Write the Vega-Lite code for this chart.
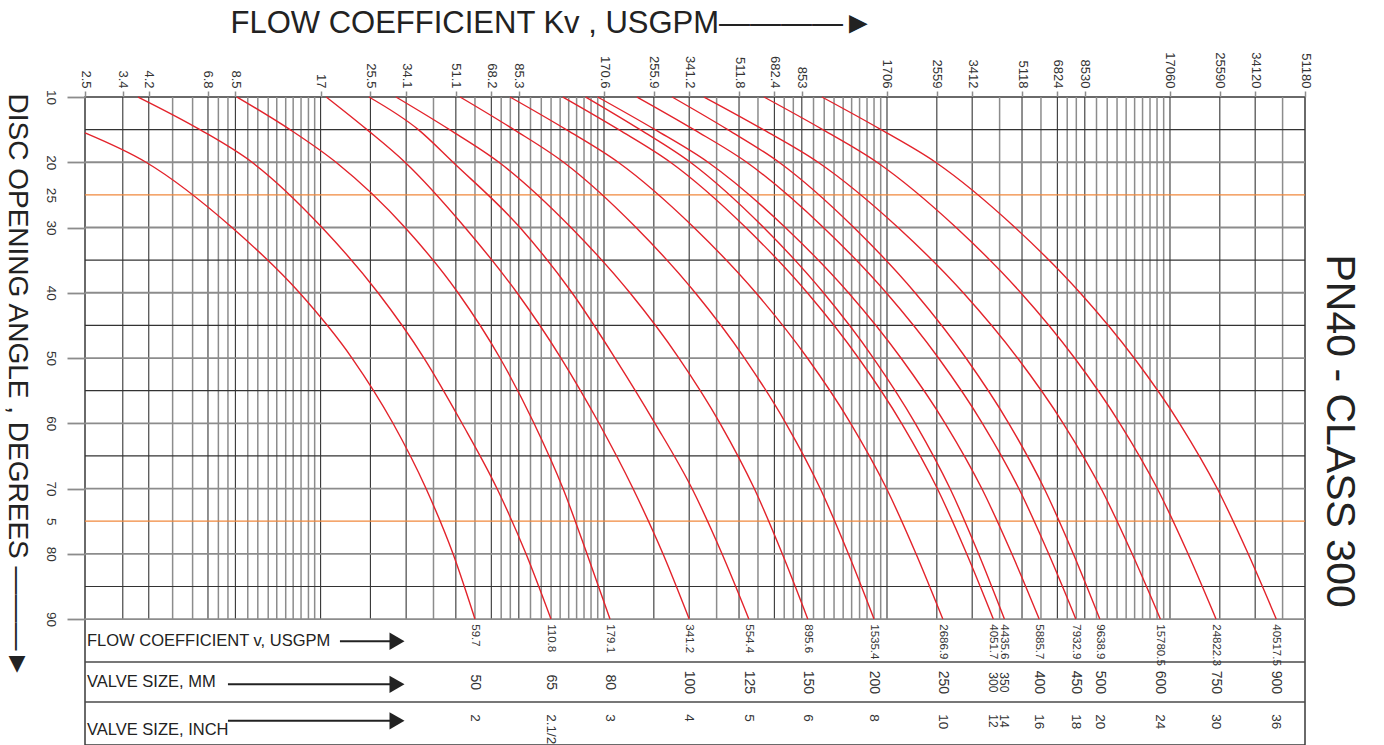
{
  "$schema": "https://vega.github.io/schema/vega-lite/v6.json",
  "width": 1220,
  "height": 648,
  "autosize": {"type": "none"},
  "padding": {"left": 85, "top": 97, "right": 79, "bottom": 0},
  "background": "#ffffff",
  "config": {
    "view": {"stroke": "#3a3a3a", "strokeWidth": 1.5},
    "font": "Liberation Sans"
  },
  "datasets": {
    "vgridLabeled": [{"kv":3.4},{"kv":4.2},{"kv":6.8},{"kv":8.5},{"kv":17},{"kv":25.5},{"kv":34.1},{"kv":51.1},{"kv":68.2},{"kv":85.3},{"kv":170.6},{"kv":255.9},{"kv":341.2},{"kv":511.8},{"kv":682.4},{"kv":853},{"kv":1706},{"kv":2559},{"kv":3412},{"kv":5118},{"kv":6824},{"kv":8530},{"kv":17060},{"kv":25590},{"kv":34120}],
    "vgridMinor": [{"kv":5.1},{"kv":6.0},{"kv":7.4},{"kv":8.0},{"kv":9.4},{"kv":10.2},{"kv":11.1},{"kv":11.9},{"kv":12.8},{"kv":13.6},{"kv":14.5},{"kv":15.4},{"kv":16.2},{"kv":42.6},{"kv":59.7},{"kv":73.9},{"kv":79.6},{"kv":93.8},{"kv":102.4},{"kv":110.9},{"kv":119.4},{"kv":128},{"kv":136.5},{"kv":145},{"kv":153.5},{"kv":162.1},{"kv":426.5},{"kv":597.1},{"kv":739.3},{"kv":796.1},{"kv":938.3},{"kv":1023.6},{"kv":1108.9},{"kv":1194.2},{"kv":1279.5},{"kv":1364.8},{"kv":1450.1},{"kv":1535.4},{"kv":1620.7},{"kv":4265},{"kv":5971},{"kv":7393},{"kv":7961},{"kv":9383},{"kv":10236},{"kv":11089},{"kv":11942},{"kv":12795},{"kv":13648},{"kv":14501},{"kv":15354},{"kv":16207},{"kv":42650}],
    "hgridTen": [{"angle":20},{"angle":30},{"angle":40},{"angle":50},{"angle":60},{"angle":70},{"angle":80},{"angle":90}],
    "hgridFive": [{"angle":15},{"angle":35},{"angle":45},{"angle":55},{"angle":65},{"angle":85}],
    "markers": [{"angle":25},{"angle":75}],
    "valves": [
      {"inch":"2","mm":50,"kv":59.7},
      {"inch":"2.1/2","mm":65,"kv":110.8},
      {"inch":"3","mm":80,"kv":179.1},
      {"inch":"4","mm":100,"kv":341.2},
      {"inch":"5","mm":125,"kv":554.4},
      {"inch":"6","mm":150,"kv":895.6},
      {"inch":"8","mm":200,"kv":1535.4},
      {"inch":"10","mm":250,"kv":2686.9},
      {"inch":"12","mm":300,"kv":4051.7},
      {"inch":"14","mm":350,"kv":4435.6},
      {"inch":"16","mm":400,"kv":5885.7},
      {"inch":"18","mm":450,"kv":7932.9},
      {"inch":"20","mm":500,"kv":9638.9},
      {"inch":"24","mm":600,"kv":15780.5},
      {"inch":"30","mm":750,"kv":24822.3},
      {"inch":"36","mm":900,"kv":40517.5}
    ],
    "curves": [
      {"inch":"2","angle":15.5,"kv":2.5},{"inch":"2","angle":20,"kv":4.107},{"inch":"2","angle":30,"kv":8.268},{"inch":"2","angle":40,"kv":14.32},{"inch":"2","angle":50,"kv":21.95},{"inch":"2","angle":60,"kv":30.64},{"inch":"2","angle":70,"kv":40.09},{"inch":"2","angle":80,"kv":49.94},{"inch":"2","angle":90,"kv":59.7},
      {"inch":"2.1/2","angle":10,"kv":3.85},{"inch":"2.1/2","angle":15,"kv":6.372},{"inch":"2.1/2","angle":20,"kv":9.73},{"inch":"2.1/2","angle":30,"kv":17.2},{"inch":"2.1/2","angle":40,"kv":27.13},{"inch":"2.1/2","angle":50,"kv":39.43},{"inch":"2.1/2","angle":60,"kv":53.73},{"inch":"2.1/2","angle":70,"kv":71.42},{"inch":"2.1/2","angle":80,"kv":90.42},{"inch":"2.1/2","angle":90,"kv":110.8},
      {"inch":"3","angle":10,"kv":8.61},{"inch":"3","angle":15,"kv":13.26},{"inch":"3","angle":20,"kv":19.27},{"inch":"3","angle":30,"kv":33.79},{"inch":"3","angle":40,"kv":52.01},{"inch":"3","angle":50,"kv":73.18},{"inch":"3","angle":60,"kv":96.5},{"inch":"3","angle":70,"kv":122.2},{"inch":"3","angle":80,"kv":148.5},{"inch":"3","angle":90,"kv":179.1},
      {"inch":"4","angle":10,"kv":17.8},{"inch":"4","angle":15,"kv":24.8},{"inch":"4","angle":20,"kv":33.79},{"inch":"4","angle":30,"kv":55.05},{"inch":"4","angle":40,"kv":84.04},{"inch":"4","angle":50,"kv":120.2},{"inch":"4","angle":60,"kv":163.8},{"inch":"4","angle":70,"kv":216.0},{"inch":"4","angle":80,"kv":275.6},{"inch":"4","angle":90,"kv":341.2},
      {"inch":"5","angle":10,"kv":25.2},{"inch":"5","angle":15,"kv":37.66},{"inch":"5","angle":20,"kv":49.94},{"inch":"5","angle":30,"kv":86.12},{"inch":"5","angle":40,"kv":131.5},{"inch":"5","angle":50,"kv":186.6},{"inch":"5","angle":60,"kv":258.3},{"inch":"5","angle":70,"kv":349.1},{"inch":"5","angle":80,"kv":445.6},{"inch":"5","angle":90,"kv":554.4},
      {"inch":"6","angle":10,"kv":31.4},{"inch":"6","angle":15,"kv":48.55},{"inch":"6","angle":20,"kv":72.56},{"inch":"6","angle":30,"kv":130.4},{"inch":"6","angle":40,"kv":210.6},{"inch":"6","angle":50,"kv":313.8},{"inch":"6","angle":60,"kv":438.5},{"inch":"6","angle":70,"kv":579.4},{"inch":"6","angle":80,"kv":727.6},{"inch":"6","angle":90,"kv":895.6},
      {"inch":"8","angle":10,"kv":52.9},{"inch":"8","angle":15,"kv":82.0},{"inch":"8","angle":20,"kv":122.8},{"inch":"8","angle":30,"kv":221.4},{"inch":"8","angle":40,"kv":358.4},{"inch":"8","angle":50,"kv":535.1},{"inch":"8","angle":60,"kv":749.2},{"inch":"8","angle":70,"kv":990.8},{"inch":"8","angle":80,"kv":1246},{"inch":"8","angle":90,"kv":1535.4},
      {"inch":"10","angle":10,"kv":79.4},{"inch":"10","angle":15,"kv":125.5},{"inch":"10","angle":20,"kv":191.5},{"inch":"10","angle":30,"kv":354.6},{"inch":"10","angle":40,"kv":586.9},{"inch":"10","angle":50,"kv":892.5},{"inch":"10","angle":60,"kv":1269},{"inch":"10","angle":70,"kv":1700},{"inch":"10","angle":80,"kv":2160},{"inch":"10","angle":90,"kv":2686.9},
      {"inch":"12","angle":10,"kv":122},{"inch":"12","angle":15,"kv":192.4},{"inch":"12","angle":20,"kv":292.9},{"inch":"12","angle":30,"kv":540.6},{"inch":"12","angle":40,"kv":892.1},{"inch":"12","angle":50,"kv":1353},{"inch":"12","angle":60,"kv":1921},{"inch":"12","angle":70,"kv":2569},{"inch":"12","angle":80,"kv":3262},{"inch":"12","angle":90,"kv":4051.7},
      {"inch":"14","angle":10,"kv":147},{"inch":"14","angle":15,"kv":228.9},{"inch":"14","angle":20,"kv":344.5},{"inch":"14","angle":30,"kv":625.4},{"inch":"14","angle":40,"kv":1018},{"inch":"14","angle":50,"kv":1527},{"inch":"14","angle":60,"kv":2147},{"inch":"14","angle":70,"kv":2849},{"inch":"14","angle":80,"kv":3593},{"inch":"14","angle":90,"kv":4435.6},
      {"inch":"16","angle":10,"kv":162},{"inch":"16","angle":15,"kv":258.4},{"inch":"16","angle":20,"kv":397.8},{"inch":"16","angle":30,"kv":745.8},{"inch":"16","angle":40,"kv":1247},{"inch":"16","angle":50,"kv":1911},{"inch":"16","angle":60,"kv":2738},{"inch":"16","angle":70,"kv":3690},{"inch":"16","angle":80,"kv":4711},{"inch":"16","angle":90,"kv":5885.7},
      {"inch":"18","angle":10,"kv":223},{"inch":"18","angle":15,"kv":354.7},{"inch":"18","angle":20,"kv":544.7},{"inch":"18","angle":30,"kv":1017},{"inch":"18","angle":40,"kv":1696},{"inch":"18","angle":50,"kv":2594},{"inch":"18","angle":60,"kv":3707},{"inch":"18","angle":70,"kv":4987},{"inch":"18","angle":80,"kv":6357},{"inch":"18","angle":90,"kv":7932.9},
      {"inch":"20","angle":10,"kv":297},{"inch":"20","angle":15,"kv":467},{"inch":"20","angle":20,"kv":708.8},{"inch":"20","angle":30,"kv":1303},{"inch":"20","angle":40,"kv":2144},{"inch":"20","angle":50,"kv":3243},{"inch":"20","angle":60,"kv":4594},{"inch":"20","angle":70,"kv":6132},{"inch":"20","angle":80,"kv":7769},{"inch":"20","angle":90,"kv":9638.9},
      {"inch":"24","angle":10,"kv":385},{"inch":"24","angle":15,"kv":623.9},{"inch":"24","angle":20,"kv":974.1},{"inch":"24","angle":30,"kv":1866},{"inch":"24","angle":40,"kv":3173},{"inch":"24","angle":50,"kv":4936},{"inch":"24","angle":60,"kv":7154},{"inch":"24","angle":70,"kv":9739},{"inch":"24","angle":80,"kv":12535},{"inch":"24","angle":90,"kv":15780.5},
      {"inch":"30","angle":10,"kv":627},{"inch":"30","angle":15,"kv":1011.6},{"inch":"30","angle":20,"kv":1573},{"inch":"30","angle":30,"kv":2994},{"inch":"30","angle":40,"kv":5068},{"inch":"30","angle":50,"kv":7850},{"inch":"30","angle":60,"kv":11338},{"inch":"30","angle":70,"kv":15385},{"inch":"30","angle":80,"kv":19761},{"inch":"30","angle":90,"kv":24822.3},
      {"inch":"36","angle":10,"kv":1005},{"inch":"36","angle":15,"kv":1625},{"inch":"36","angle":20,"kv":2533},{"inch":"36","angle":30,"kv":4836},{"inch":"36","angle":40,"kv":8206},{"inch":"36","angle":50,"kv":12742},{"inch":"36","angle":60,"kv":18440},{"inch":"36","angle":70,"kv":25060},{"inch":"36","angle":80,"kv":32230},{"inch":"36","angle":90,"kv":40517.5}
    ]
  },
  "layer": [
    {
      "data": {"name": "vgridMinor"},
      "mark": {"type": "rule", "color": "#8c8c8c", "strokeWidth": 1.5},
      "encoding": {
        "x": {"field": "kv", "type": "quantitative", "scale": {"type": "log", "domain": [2.5, 51180], "nice": false}},
        "y": {"datum": 10, "type": "quantitative", "scale": {"domain": [10, 109.3], "reverse": true, "nice": false, "zero": false}},
        "y2": {"datum": 90}
      }
    },
    {
      "data": {"name": "vgridLabeled"},
      "mark": {"type": "rule", "color": "#353535", "strokeWidth": 1.1},
      "encoding": {
        "x": {"field": "kv", "type": "quantitative", "scale": {"type": "log", "domain": [2.5, 51180], "nice": false}},
        "y": {"datum": 10, "type": "quantitative", "scale": {"domain": [10, 109.3], "reverse": true, "nice": false, "zero": false}},
        "y2": {"datum": 90}
      }
    },
    {
      "data": {"name": "hgridTen"},
      "mark": {"type": "rule", "color": "#8c8c8c", "strokeWidth": 1.8},
      "encoding": {
        "y": {"field": "angle", "type": "quantitative", "scale": {"domain": [10, 109.3], "reverse": true, "nice": false, "zero": false}}
      }
    },
    {
      "data": {"name": "hgridFive"},
      "mark": {"type": "rule", "color": "#333333", "strokeWidth": 1.1},
      "encoding": {
        "y": {"field": "angle", "type": "quantitative", "scale": {"domain": [10, 109.3], "reverse": true, "nice": false, "zero": false}}
      }
    },
    {
      "data": {"name": "markers"},
      "mark": {"type": "rule", "color": "#f0883c", "strokeWidth": 1.2},
      "encoding": {
        "y": {"field": "angle", "type": "quantitative", "scale": {"domain": [10, 109.3], "reverse": true, "nice": false, "zero": false}}
      }
    },
    {
      "data": {"values": [{}]},
      "mark": {"type": "rule", "color": "#4a4a4a", "strokeWidth": 1.5},
      "encoding": {
        "y": {"datum": 96.6, "type": "quantitative", "scale": {"domain": [10, 109.3], "reverse": true, "nice": false, "zero": false}}
      }
    },
    {
      "data": {"values": [{}]},
      "mark": {"type": "rule", "color": "#4a4a4a", "strokeWidth": 1.5},
      "encoding": {
        "y": {"datum": 102.7, "type": "quantitative", "scale": {"domain": [10, 109.3], "reverse": true, "nice": false, "zero": false}}
      }
    },
    {
      "data": {"name": "curves"},
      "mark": {"type": "line", "color": "#e3232b", "strokeWidth": 1.4, "interpolate": "monotone"},
      "encoding": {
        "x": {
          "field": "kv", "type": "quantitative",
          "scale": {"type": "log", "domain": [2.5, 51180], "nice": false},
          "axis": {
            "orient": "top",
            "values": [2.5, 3.4, 4.2, 6.8, 8.5, 17, 25.5, 34.1, 51.1, 68.2, 85.3, 170.6, 255.9, 341.2, 511.8, 682.4, 853, 1706, 2559, 3412, 5118, 6824, 8530, 17060, 25590, 34120, 51180],
            "format": "~g",
            "labelAngle": 90, "labelAlign": "right", "labelBaseline": "middle",
            "labelFontSize": 13, "labelColor": "#333333", "labelPadding": 3,
            "labelOverlap": false, "labelFlush": false, "labelBound": false,
            "tickSize": 6, "tickColor": "#8c8c8c", "tickWidth": 1.5,
            "domain": false, "grid": false,
            "title": "FLOW COEFFICIENT Kv , USGPM————►",
            "titleFontSize": 31, "titleFontWeight": "normal", "titleColor": "#222222", "titleFont": "Liberation Sans",
            "titleX": 145, "titleY": -65, "titleAlign": "left", "titleBaseline": "alphabetic", "titleAngle": 0
          }
        },
        "y": {
          "field": "angle", "type": "quantitative",
          "scale": {"domain": [10, 109.3], "reverse": true, "nice": false, "zero": false},
          "axis": {
            "orient": "left",
            "values": [10, 20, 25, 30, 40, 50, 60, 70, 75, 80, 90],
            "labelExpr": "datum.value == 75 ? '5' : datum.label",
            "labelAngle": 90, "labelAlign": "center", "labelBaseline": "top",
            "labelFontSize": 13.5, "labelColor": "#333333", "labelPadding": 10,
            "labelOverlap": false, "labelFlush": false,
            "tickSize": 18, "tickColor": "#8c8c8c", "tickWidth": 1.8,
            "tickOpacity": {"condition": {"test": "datum.value == 25 || datum.value == 75", "value": 0}, "value": 1},
            "domain": false, "grid": false,
            "title": "DISC OPENING ANGLE , DEGREES ———►",
            "titleFontSize": 28, "titleFontWeight": "normal", "titleColor": "#222222", "titleFont": "Liberation Sans",
            "titleAngle": 90, "titleAlign": "left", "titleBaseline": "alphabetic",
            "titleX": -77, "titleY": -4
          }
        },
        "detail": {"field": "inch", "type": "nominal"}
      }
    },
    {
      "data": {"name": "valves"},
      "mark": {"type": "text", "angle": 90, "align": "left", "baseline": "middle", "fontSize": 11.5, "color": "#333333"},
      "encoding": {
        "x": {"field": "kv", "type": "quantitative", "scale": {"type": "log", "domain": [2.5, 51180], "nice": false}},
        "y": {"datum": 90.8, "type": "quantitative", "scale": {"domain": [10, 109.3], "reverse": true, "nice": false, "zero": false}},
        "text": {"field": "kv", "type": "quantitative", "format": ".1f"}
      }
    },
    {
      "data": {"name": "valves"},
      "mark": {"type": "text", "angle": 90, "align": "center", "baseline": "middle", "color": "#333333"},
      "encoding": {
        "x": {"field": "kv", "type": "quantitative", "scale": {"type": "log", "domain": [2.5, 51180], "nice": false}},
        "y": {"datum": 99.7, "type": "quantitative", "scale": {"domain": [10, 109.3], "reverse": true, "nice": false, "zero": false}},
        "text": {"field": "mm", "type": "nominal"},
        "size": {"condition": {"test": "datum.mm == 300 || datum.mm == 350", "value": 12}, "value": 14}
      }
    },
    {
      "data": {"name": "valves"},
      "mark": {"type": "text", "angle": 90, "align": "left", "baseline": "middle", "color": "#333333"},
      "encoding": {
        "x": {"field": "kv", "type": "quantitative", "scale": {"type": "log", "domain": [2.5, 51180], "nice": false}},
        "y": {"datum": 104.6, "type": "quantitative", "scale": {"domain": [10, 109.3], "reverse": true, "nice": false, "zero": false}},
        "text": {"field": "inch", "type": "nominal"},
        "size": {"condition": {"test": "datum.inch == '12' || datum.inch == '14'", "value": 12}, "value": 13.5}
      }
    },
    {
      "data": {"values": [{}]},
      "mark": {"type": "text", "text": "FLOW COEFFICIENT v, USGPM", "align": "left", "baseline": "middle", "dx": 2, "fontSize": 16.5, "color": "#222222"},
      "encoding": {
        "x": {"datum": 2.5, "type": "quantitative", "scale": {"type": "log", "domain": [2.5, 51180], "nice": false}},
        "y": {"datum": 93.4, "type": "quantitative", "scale": {"domain": [10, 109.3], "reverse": true, "nice": false, "zero": false}}
      }
    },
    {
      "data": {"values": [{}]},
      "mark": {"type": "text", "text": "VALVE SIZE, MM", "align": "left", "baseline": "middle", "dx": 2, "fontSize": 16.5, "color": "#222222"},
      "encoding": {
        "x": {"datum": 2.5, "type": "quantitative", "scale": {"type": "log", "domain": [2.5, 51180], "nice": false}},
        "y": {"datum": 99.6, "type": "quantitative", "scale": {"domain": [10, 109.3], "reverse": true, "nice": false, "zero": false}}
      }
    },
    {
      "data": {"values": [{}]},
      "mark": {"type": "text", "text": "VALVE SIZE, INCH", "align": "left", "baseline": "middle", "dx": 2, "fontSize": 16.5, "color": "#222222"},
      "encoding": {
        "x": {"datum": 2.5, "type": "quantitative", "scale": {"type": "log", "domain": [2.5, 51180], "nice": false}},
        "y": {"datum": 107.0, "type": "quantitative", "scale": {"domain": [10, 109.3], "reverse": true, "nice": false, "zero": false}}
      }
    },
    {
      "data": {"values": [{}]},
      "mark": {"type": "rule", "color": "#222222", "strokeWidth": 2},
      "encoding": {
        "x": {"datum": 19.9, "type": "quantitative", "scale": {"type": "log", "domain": [2.5, 51180], "nice": false}},
        "x2": {"datum": 30.4},
        "y": {"datum": 93.4, "type": "quantitative", "scale": {"domain": [10, 109.3], "reverse": true, "nice": false, "zero": false}}
      }
    },
    {
      "data": {"values": [{}]},
      "mark": {"type": "rule", "color": "#222222", "strokeWidth": 2},
      "encoding": {
        "x": {"datum": 8.0, "type": "quantitative", "scale": {"type": "log", "domain": [2.5, 51180], "nice": false}},
        "x2": {"datum": 30.4},
        "y": {"datum": 100.0, "type": "quantitative", "scale": {"domain": [10, 109.3], "reverse": true, "nice": false, "zero": false}}
      }
    },
    {
      "data": {"values": [{}]},
      "mark": {"type": "rule", "color": "#222222", "strokeWidth": 2},
      "encoding": {
        "x": {"datum": 8.0, "type": "quantitative", "scale": {"type": "log", "domain": [2.5, 51180], "nice": false}},
        "x2": {"datum": 30.4},
        "y": {"datum": 105.6, "type": "quantitative", "scale": {"domain": [10, 109.3], "reverse": true, "nice": false, "zero": false}}
      }
    },
    {
      "data": {"values": [{}]},
      "mark": {"type": "point", "shape": "triangle-right", "filled": true, "color": "#222222", "opacity": 1, "size": 300},
      "encoding": {
        "x": {"datum": 31.66, "type": "quantitative", "scale": {"type": "log", "domain": [2.5, 51180], "nice": false}},
        "y": {"datum": 93.4, "type": "quantitative", "scale": {"domain": [10, 109.3], "reverse": true, "nice": false, "zero": false}}
      }
    },
    {
      "data": {"values": [{}]},
      "mark": {"type": "point", "shape": "triangle-right", "filled": true, "color": "#222222", "opacity": 1, "size": 300},
      "encoding": {
        "x": {"datum": 31.66, "type": "quantitative", "scale": {"type": "log", "domain": [2.5, 51180], "nice": false}},
        "y": {"datum": 100.0, "type": "quantitative", "scale": {"domain": [10, 109.3], "reverse": true, "nice": false, "zero": false}}
      }
    },
    {
      "data": {"values": [{}]},
      "mark": {"type": "point", "shape": "triangle-right", "filled": true, "color": "#222222", "opacity": 1, "size": 300},
      "encoding": {
        "x": {"datum": 31.66, "type": "quantitative", "scale": {"type": "log", "domain": [2.5, 51180], "nice": false}},
        "y": {"datum": 105.6, "type": "quantitative", "scale": {"domain": [10, 109.3], "reverse": true, "nice": false, "zero": false}}
      }
    },
    {
      "data": {"values": [{}]},
      "mark": {"type": "text", "text": "PN40 - CLASS 300", "angle": 90, "align": "center", "baseline": "middle", "fontSize": 41, "color": "#222222"},
      "encoding": {
        "x": {"datum": 67500, "type": "quantitative", "scale": {"type": "log", "domain": [2.5, 51180], "nice": false}},
        "y": {"datum": 61.2, "type": "quantitative", "scale": {"domain": [10, 109.3], "reverse": true, "nice": false, "zero": false}}
      }
    }
  ]
}
